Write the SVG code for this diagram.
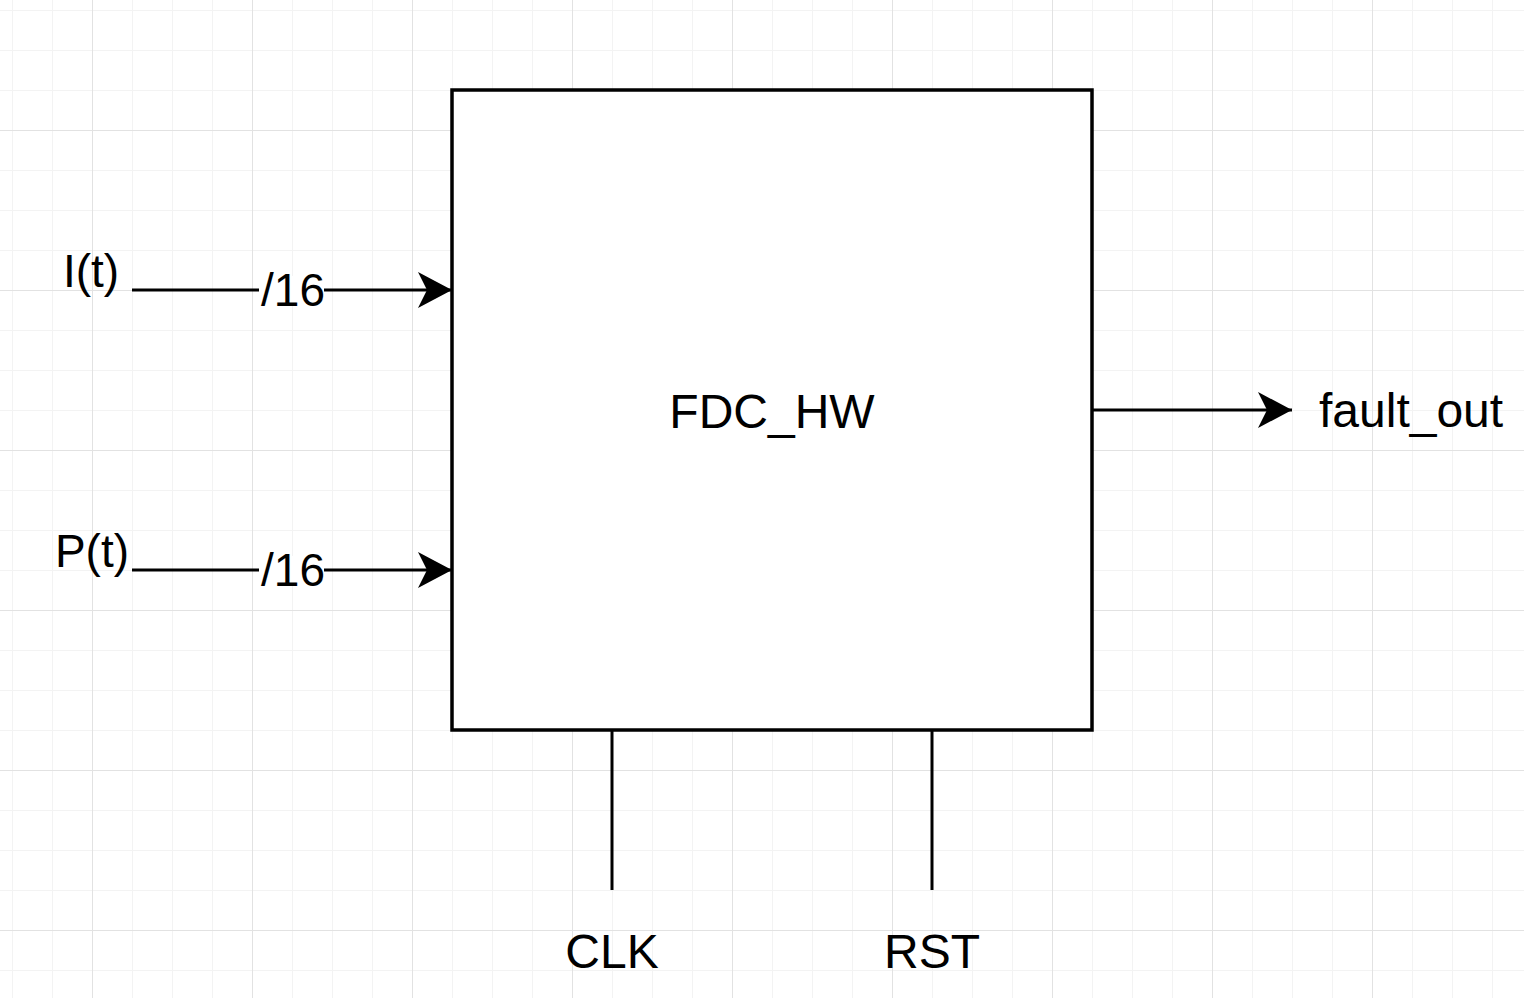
<svg xmlns="http://www.w3.org/2000/svg" width="1524" height="998" viewBox="0 0 1524 998">
<defs>
<pattern id="gMinor" x="12" y="10" width="40" height="40" patternUnits="userSpaceOnUse"><path d="M0.5 0V40M0 0.5H40" stroke="#f3f3f3" stroke-width="1" fill="none"/></pattern>
<pattern id="gMajor" x="92" y="130" width="160" height="160" patternUnits="userSpaceOnUse"><path d="M0.5 0V160M0 0.5H160" stroke="#e2e2e2" stroke-width="1" fill="none"/></pattern>
<marker id="arrow" markerUnits="userSpaceOnUse" viewBox="0 0 34 36" refX="34" refY="18" markerWidth="34" markerHeight="36" orient="auto"><path d="M0 0L34 18L0 36L9 18Z" fill="#000"/></marker>
<style>
.lbl{font-family:"Liberation Sans",Arial,sans-serif;font-size:46px;fill:#000}
.big{font-size:48px}
.wire{stroke:#000;stroke-width:3;fill:none}
.arr{marker-end:url(#arrow)}
</style>
</defs>
<rect width="1524" height="998" fill="#fff"/>
<rect width="1524" height="998" fill="url(#gMinor)"/>
<rect width="1524" height="998" fill="url(#gMajor)"/>
<g id="connectors">
<path class="wire arr" d="M132 290H452"/>
<path class="wire arr" d="M132 570H452"/>
<path class="wire arr" d="M1092 410H1292"/>
<path class="wire" d="M612 730V890"/>
<path class="wire" d="M932 730V890"/>
<g id="bus-label-1"><rect x="259" y="276" width="65" height="28" fill="#fff"/><text class="lbl" x="293" y="306" text-anchor="middle">/16</text></g>
<g id="bus-label-2"><rect x="259" y="556" width="65" height="28" fill="#fff"/><text class="lbl" x="293" y="586" text-anchor="middle">/16</text></g>
</g>
<g id="fdc_hw"><rect x="452" y="90" width="640" height="640" fill="#fff" stroke="#000" stroke-width="3.5"/><text class="lbl big" x="772" y="428" text-anchor="middle">FDC_HW</text></g>
<g id="in_i"><text class="lbl" x="91" y="287" text-anchor="middle">I(t)</text></g>
<g id="in_p"><text class="lbl" x="92" y="567" text-anchor="middle">P(t)</text></g>
<g id="out_fault"><text class="lbl big" x="1319" y="427">fault_out</text></g>
<g id="in_clk"><text class="lbl big" x="612" y="968" text-anchor="middle">CLK</text></g>
<g id="in_rst"><text class="lbl big" x="932" y="968" text-anchor="middle">RST</text></g>
</svg>
